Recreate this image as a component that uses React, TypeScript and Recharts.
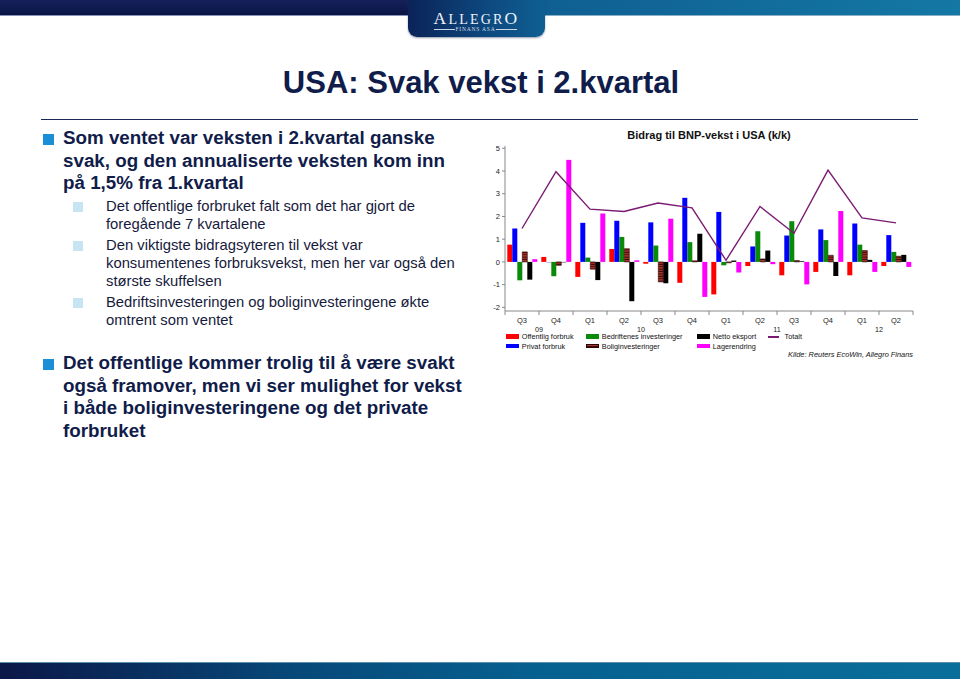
import React from 'react';
import { ComposedChart, Bar, Line, XAxis, YAxis } from 'recharts';

// ---------- data ----------
const quarters = ['Q3', 'Q4', 'Q1', 'Q2', 'Q3', 'Q4', 'Q1', 'Q2', 'Q3', 'Q4', 'Q1', 'Q2'];
const years = ['09', '09', '10', '10', '10', '10', '11', '11', '11', '11', '12', '12'];

const offentligForbruk = [0.76, 0.22, -0.66, 0.57, -0.08, -0.92, -1.43, -0.18, -0.59, -0.44, -0.59, -0.18];
const privatForbruk = [1.47, -0.02, 1.72, 1.81, 1.74, 2.82, 2.2, 0.68, 1.16, 1.43, 1.69, 1.18];
const bedriftInvest = [-0.81, -0.63, 0.19, 1.1, 0.72, 0.87, -0.15, 1.35, 1.79, 0.96, 0.76, 0.44];
const boligInvest = [0.44, -0.15, -0.32, 0.58, -0.88, 0.05, -0.04, 0.13, 0.06, 0.29, 0.5, 0.25];
const nettoEksport = [-0.78, -0.02, -0.8, -1.73, -0.94, 1.24, 0.06, 0.5, 0.03, -0.62, 0.09, 0.31];
const lagerendring = [0.12, 4.49, 2.13, 0.07, 1.9, -1.54, -0.47, -0.1, -0.99, 2.24, -0.44, -0.22];
const totalt = [1.47, 3.97, 2.32, 2.22, 2.59, 2.38, 0.07, 2.44, 1.26, 4.04, 1.94, 1.72];

const yTicks = [-2, -1, 0, 1, 2, 3, 4, 5];

const chartTitle = 'Bidrag til BNP-vekst i USA (k/k)';
const sourceText = 'Kilde: Reuters EcoWin, Allegro Finans';
const slideTitle = 'USA: Svak vekst i 2.kvartal';

const bullets1 = [
  'Som ventet var veksten i 2.kvartal ganske',
  'svak, og den annualiserte veksten kom inn',
  'på 1,5% fra 1.kvartal',
];
const subBullets = [
  ['Det offentlige forbruket falt som det har gjort de', 'foregående 7 kvartalene'],
  ['Den viktigste bidragsyteren til vekst var', 'konsumentenes forbruksvekst, men her var også den', 'største skuffelsen'],
  ['Bedriftsinvesteringen og boliginvesteringene økte', 'omtrent som ventet'],
];
const bullets2 = [
  'Det offentlige kommer trolig til å være svakt',
  'også framover, men vi ser mulighet for vekst',
  'i både boliginvesteringene og det private',
  'forbruket',
];

const series = [
  { key: 'offentlig', name: 'Offentlig forbruk', color: '#ff0000', values: offentligForbruk },
  { key: 'privat', name: 'Privat forbruk', color: '#0000ff', values: privatForbruk },
  { key: 'bedrift', name: 'Bedriftenes investeringer', color: '#0a8a0a', values: bedriftInvest },
  { key: 'bolig', name: 'Boliginvesteringer', color: '#a3281e', values: boligInvest, hatch: true },
  { key: 'netto', name: 'Netto eksport', color: '#000000', values: nettoEksport },
  { key: 'lager', name: 'Lagerendring', color: '#ff00ff', values: lagerendring },
];
const lineSeries = { key: 'totalt', name: 'Totalt', color: '#7a1a72', values: totalt };

const data = quarters.map((q, i) => {
  const row: any = { idx: i, quarter: q, year: years[i], totalt: totalt[i] };
  series.forEach((s) => {
    row[s.key] = s.values[i];
  });
  return row;
});

// ---------- styling ----------
const FONT = '"Liberation Sans", Arial, Helvetica, sans-serif';
const NAVY = '#101c4a';

const T = ({ x, baseline, size, children, style }: any) => (
  <div
    style={{
      position: 'absolute',
      left: x,
      top: baseline - 0.8465 * size,
      fontSize: size,
      lineHeight: size + 'px',
      whiteSpace: 'nowrap',
      ...style,
    }}
  >
    {children}
  </div>
);

const XTick = (props: any) => {
  const { x, y, payload } = props;
  const i = Number(payload.value);
  const half = payload.offset || 17;
  const yr = years[i];
  const isFirst = i === 0 || years[i - 1] !== yr;
  let count = 0;
  for (let k = i; k < years.length && years[k] === yr; k++) count++;
  return (
    <g>
      <line x1={x - half} x2={x - half} y1={y} y2={y + 4} stroke="#888" strokeWidth={1} />
      {i === quarters.length - 1 && (
        <line x1={x + half} x2={x + half} y1={y} y2={y + 4} stroke="#888" strokeWidth={1} />
      )}
      <text x={x} y={y + 11.5} textAnchor="middle" fontSize={7.5} fill="#222" fontFamily={FONT}>
        {quarters[i]}
      </text>
      {isFirst && (
        <text x={x + (count - 1) * half} y={y + 21} textAnchor="middle" fontSize={7.2} fill="#222" fontFamily={FONT}>
          {yr}
        </text>
      )}
    </g>
  );
};

const legendCols = [506, 586, 697, 768];
const legendRows = [339.6, 348.8];

export default function App() {
  const legendItems = [...series, { ...lineSeries, line: true } as any];
  return (
    <div
      style={{
        position: 'absolute',
        left: 0,
        top: 0,
        width: 960,
        height: 679,
        background: '#ffffff',
        overflow: 'hidden',
        fontFamily: FONT,
      }}
    >
      {/* top bar */}
      <div style={{ position: 'absolute', left: 0, top: 0, width: 410, height: 15, background: 'linear-gradient(to bottom, #15215a, #0a1545)', borderBottom: '1px solid #8a93b5' }} />
      <div style={{ position: 'absolute', left: 543, top: 0, width: 417, height: 15, background: 'linear-gradient(to right, #0f5f92, #1478a4)', borderBottom: '1px solid #8ab0c8' }} />
      {/* logo */}
      <div
        style={{
          position: 'absolute',
          left: 408,
          top: 0,
          width: 137,
          height: 37,
          borderBottomLeftRadius: 9,
          borderBottomRightRadius: 9,
          background: 'linear-gradient(to right, #0b2358, #0d4a80 60%, #0f5f92)',
          boxShadow: '0 1px 2px rgba(40,60,100,0.5)',
        }}
      />
      <div
        style={{
          position: 'absolute',
          left: 408,
          top: 8.5,
          width: 137,
          textAlign: 'center',
          color: '#eef2f8',
          fontFamily: '"Liberation Serif", "DejaVu Serif", serif',
          letterSpacing: 2.2,
          lineHeight: '18px',
          whiteSpace: 'nowrap',
        }}
      >
        <span style={{ fontSize: 17.5 }}>A</span>
        <span style={{ fontSize: 14 }}>LLEGR</span>
        <span style={{ fontSize: 17.5 }}>O</span>
      </div>
      <div style={{ position: 'absolute', left: 434, top: 28.5, width: 21, height: 1, background: '#c8d4e4' }} />
      <div style={{ position: 'absolute', left: 496, top: 28.5, width: 21, height: 1, background: '#c8d4e4' }} />
      <div
        style={{
          position: 'absolute',
          left: 455,
          top: 25.5,
          width: 41,
          textAlign: 'center',
          fontSize: 5.5,
          lineHeight: '6px',
          color: '#d0dcea',
          letterSpacing: 0.8,
          fontFamily: '"Liberation Serif", serif',
          whiteSpace: 'nowrap',
        }}
      >
        FINANS ASA
      </div>

      {/* bottom bar */}
      <div
        style={{
          position: 'absolute',
          left: 0,
          top: 662,
          width: 960,
          height: 17,
          background: 'linear-gradient(to right, #0b1848, #074878 30%, #06608f 55%, #0a6e9b)',
          borderTop: '1px solid #5a90ac',
        }}
      />

      {/* slide title */}
      <div
        style={{
          position: 'absolute',
          left: 0,
          top: 93 - 0.8465 * 31,
          width: 962,
          textAlign: 'center',
          fontSize: 31,
          lineHeight: '31px',
          fontWeight: 'bold',
          color: NAVY,
          whiteSpace: 'nowrap',
        }}
      >
        {slideTitle}
      </div>
      <div style={{ position: 'absolute', left: 41, top: 118.5, width: 877, height: 1.5, background: '#1b2858' }} />

      {/* bullets */}
      <div style={{ position: 'absolute', left: 43, top: 134, width: 11, height: 11, background: '#1a8fd6' }} />
      {bullets1.map((t, i) => (
        <T key={'b1' + i} x={63} baseline={145 + i * 22.7} size={18.8} style={{ fontWeight: 'bold', color: NAVY }}>
          {t}
        </T>
      ))}
      {(() => {
        const out: any[] = [];
        let base = 212;
        subBullets.forEach((grp, gi) => {
          out.push(
            <div key={'sq' + gi} style={{ position: 'absolute', left: 73, top: base - 10, width: 10, height: 10, background: '#c6e4f1' }} />
          );
          grp.forEach((t, li) => {
            out.push(
              <T key={'sb' + gi + '-' + li} x={106} baseline={base} size={14.8} style={{ color: '#161a3c' }}>
                {t}
              </T>
            );
            base += li === grp.length - 1 ? 21.3 : 17.7;
          });
        });
        return out;
      })()}
      <div style={{ position: 'absolute', left: 43, top: 359, width: 11, height: 11, background: '#1a8fd6' }} />
      {bullets2.map((t, i) => (
        <T key={'b2' + i} x={63} baseline={370 + i * 22.7} size={18.8} style={{ fontWeight: 'bold', color: NAVY }}>
          {t}
        </T>
      ))}

      {/* chart title */}
      <div
        style={{
          position: 'absolute',
          left: 609,
          top: 139 - 0.8465 * 11,
          width: 200,
          textAlign: 'center',
          fontSize: 11,
          lineHeight: '11px',
          fontWeight: 'bold',
          color: '#111',
          whiteSpace: 'nowrap',
        }}
      >
        {chartTitle}
      </div>

      {/* chart */}
      <div style={{ position: 'absolute', left: 485, top: 140 }}>
        <ComposedChart
          width={435}
          height={199}
          data={data}
          margin={{ top: 6, right: 7, bottom: 0, left: 0 }}
          barCategoryGap={2.3}
          barGap={0}
        >
          <defs>
            <pattern id="boligHatch" patternUnits="userSpaceOnUse" width={4} height={2.4}>
              <rect x={0} y={0} width={4} height={2.4} fill="#b0342a" />
              <rect x={0} y={1.4} width={4} height={1} fill="#3a0806" />
            </pattern>
          </defs>
          <XAxis
            dataKey="idx"
            type="category"
            height={28}
            interval={0}
            tickSize={0}
            tickMargin={0}
            tickLine={false}
            axisLine={{ stroke: '#888' }}
            tick={<XTick />}
          />
          <XAxis xAxisId="top" dataKey="idx" type="category" orientation="top" height={0} tick={false} tickLine={false} axisLine={{ stroke: '#b0b0b0' }} />
          <YAxis
            domain={[-2.16, 5.1]}
            ticks={yTicks}
            allowDataOverflow
            interval={0}
            width={20}
            tickSize={3}
            tick={{ fontSize: 7.5, fill: '#222', fontFamily: FONT }}
            tickLine={{ stroke: '#888' }}
            axisLine={{ stroke: '#888' }}
          />
          <YAxis yAxisId="right" orientation="right" domain={[-2.16, 5.1]} allowDataOverflow width={0} tick={false} tickLine={false} axisLine={{ stroke: '#b0b0b0' }} />
          {series.map((s) => (
            <Bar
              key={s.key}
              dataKey={s.key}
              name={s.name}
              fill={s.hatch ? 'url(#boligHatch)' : s.color}
              stroke={s.hatch ? '#2a0604' : undefined}
              strokeWidth={s.hatch ? 0.6 : 0}
              isAnimationActive={false}
            />
          ))}
          <Line
            dataKey={lineSeries.key}
            name={lineSeries.name}
            type="linear"
            stroke={lineSeries.color}
            strokeWidth={1.4}
            dot={false}
            activeDot={false}
            isAnimationActive={false}
          />
        </ComposedChart>
      </div>

      {/* legend */}
      {legendItems.map((s: any, i: number) => {
        const col = Math.floor(i / 2);
        const row = i % 2;
        const x = legendCols[col];
        const base = legendRows[row];
        return (
          <React.Fragment key={'lg' + s.key}>
            {s.line ? (
              <div style={{ position: 'absolute', left: x, top: base - 3.6, width: 11, height: 1.5, background: s.color }} />
            ) : (
              <div
                style={{
                  position: 'absolute',
                  left: x,
                  top: base - 5.3,
                  width: 12.5,
                  height: 4.5,
                  boxSizing: 'border-box',
                  background: s.hatch
                    ? 'repeating-linear-gradient(to bottom, #b0342a 0px, #b0342a 1.2px, #3a0806 1.2px, #3a0806 2.2px)'
                    : s.color,
                  border: s.hatch ? '0.6px solid #2a0604' : 'none',
                }}
              />
            )}
            <T x={x + (s.line ? 16.5 : 15.8)} baseline={base} size={7.3} style={{ color: '#111' }}>
              {s.name}
            </T>
          </React.Fragment>
        );
      })}
      <T x={700} baseline={357.5} size={7.4} style={{ width: 213, textAlign: 'right', fontStyle: 'italic', color: '#111' }}>
        {sourceText}
      </T>
    </div>
  );
}
